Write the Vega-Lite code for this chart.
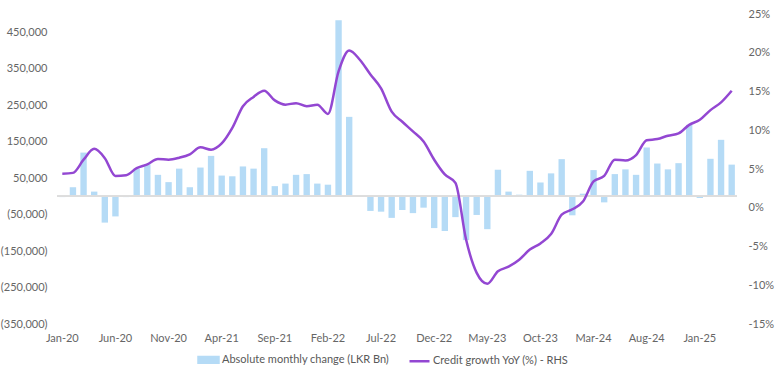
{
  "$schema": "https://vega.github.io/schema/vega-lite/v6.json",
  "width": 680,
  "height": 310,
  "autosize": {"type": "none"},
  "padding": {"left": 57, "top": 14, "right": 43, "bottom": 51},
  "config": {
    "view": {"stroke": null},
    "font": "Lato",
    "axis": {"labelFont": "Lato", "labelFontSize": 11, "labelColor": "#666666", "grid": false, "domain": false, "ticks": false},
    "legend": {"labelFont": "Lato", "labelFontSize": 11, "labelColor": "#595959"}
  },
  "data": {
    "values": [
      {"m": "Jan-20", "chg": -2000, "yoy": 4.4},
      {"m": "Feb-20", "chg": 25000, "yoy": 4.5},
      {"m": "Mar-20", "chg": 120000, "yoy": 6.2},
      {"m": "Apr-20", "chg": 13000, "yoy": 7.6},
      {"m": "May-20", "chg": -72000, "yoy": 6.4},
      {"m": "Jun-20", "chg": -55000, "yoy": 4.1},
      {"m": "Jul-20", "chg": -2000, "yoy": 4.2},
      {"m": "Aug-20", "chg": 76000, "yoy": 5.1},
      {"m": "Sep-20", "chg": 88000, "yoy": 5.6},
      {"m": "Oct-20", "chg": 59000, "yoy": 6.3},
      {"m": "Nov-20", "chg": 39000, "yoy": 6.2},
      {"m": "Dec-20", "chg": 76000, "yoy": 6.45},
      {"m": "Jan-21", "chg": 25000, "yoy": 6.9},
      {"m": "Feb-21", "chg": 79000, "yoy": 7.8},
      {"m": "Mar-21", "chg": 111000, "yoy": 7.5},
      {"m": "Apr-21", "chg": 57000, "yoy": 8.3},
      {"m": "May-21", "chg": 55000, "yoy": 10.3},
      {"m": "Jun-21", "chg": 82000, "yoy": 13.1},
      {"m": "Jul-21", "chg": 76000, "yoy": 14.3},
      {"m": "Aug-21", "chg": 132000, "yoy": 15.1},
      {"m": "Sep-21", "chg": 28000, "yoy": 13.85},
      {"m": "Oct-21", "chg": 35000, "yoy": 13.3},
      {"m": "Nov-21", "chg": 59000, "yoy": 13.5},
      {"m": "Dec-21", "chg": 61000, "yoy": 13.1},
      {"m": "Jan-22", "chg": 35000, "yoy": 13.3},
      {"m": "Feb-22", "chg": 32000, "yoy": 12.1},
      {"m": "Mar-22", "chg": 483000, "yoy": 17.6},
      {"m": "Apr-22", "chg": 218000, "yoy": 20.3},
      {"m": "May-22", "chg": 0, "yoy": 19.1},
      {"m": "Jun-22", "chg": -40000, "yoy": 17.2},
      {"m": "Jul-22", "chg": -42000, "yoy": 15.4},
      {"m": "Aug-22", "chg": -59000, "yoy": 12.4},
      {"m": "Sep-22", "chg": -37500, "yoy": 11.1},
      {"m": "Oct-22", "chg": -46000, "yoy": 9.85},
      {"m": "Nov-22", "chg": -31000, "yoy": 8.55},
      {"m": "Dec-22", "chg": -87000, "yoy": 6.2},
      {"m": "Jan-23", "chg": -95000, "yoy": 4.3},
      {"m": "Feb-23", "chg": -57000, "yoy": 3.2},
      {"m": "Mar-23", "chg": -120000, "yoy": -4.1},
      {"m": "Apr-23", "chg": -51000, "yoy": -8.4},
      {"m": "May-23", "chg": -90000, "yoy": -9.8},
      {"m": "Jun-23", "chg": 73000, "yoy": -8.2},
      {"m": "Jul-23", "chg": 13000, "yoy": -7.6},
      {"m": "Aug-23", "chg": 4600, "yoy": -6.7},
      {"m": "Sep-23", "chg": 70000, "yoy": -5.4},
      {"m": "Oct-23", "chg": 38000, "yoy": -4.6},
      {"m": "Nov-23", "chg": 63000, "yoy": -3.4},
      {"m": "Dec-23", "chg": 102000, "yoy": -0.9},
      {"m": "Jan-24", "chg": -52000, "yoy": -0.2},
      {"m": "Feb-24", "chg": 7300, "yoy": 0.8},
      {"m": "Mar-24", "chg": 72000, "yoy": 3.4},
      {"m": "Apr-24", "chg": -16500, "yoy": 4.1},
      {"m": "May-24", "chg": 61000, "yoy": 6.2},
      {"m": "Jun-24", "chg": 74000, "yoy": 6.1},
      {"m": "Jul-24", "chg": 59000, "yoy": 6.8},
      {"m": "Aug-24", "chg": 134000, "yoy": 8.7},
      {"m": "Sep-24", "chg": 90000, "yoy": 8.86},
      {"m": "Oct-24", "chg": 74000, "yoy": 9.3},
      {"m": "Nov-24", "chg": 91000, "yoy": 9.6},
      {"m": "Dec-24", "chg": 196000, "yoy": 10.7},
      {"m": "Jan-25", "chg": -4600, "yoy": 11.35},
      {"m": "Feb-25", "chg": 103000, "yoy": 12.6},
      {"m": "Mar-25", "chg": 155000, "yoy": 13.6},
      {"m": "Apr-25", "chg": 87000, "yoy": 15.1}
    ]
  },
  "encoding": {
    "x": {
      "field": "m", "type": "ordinal", "sort": null,
      "scale": {"paddingInner": 0.4, "paddingOuter": 0.2},
      "axis": {
        "title": null, "labelAngle": 0, "labelPadding": 8,
        "values": ["Jan-20", "Jun-20", "Nov-20", "Apr-21", "Sep-21", "Feb-22", "Jul-22", "Dec-22", "May-23", "Oct-23", "Mar-24", "Aug-24", "Jan-25"]
      }
    }
  },
  "layer": [
    {
      "mark": {"type": "bar", "color": "#b5dbf6"},
      "encoding": {
        "y": {
          "field": "chg", "type": "quantitative",
          "scale": {"domain": [-350000, 500000], "nice": false, "zero": false},
          "axis": {
            "title": null, "orient": "left", "labelPadding": 10,
            "values": [-350000, -250000, -150000, -50000, 50000, 150000, 250000, 350000, 450000],
            "labelExpr": "datum.value < 0 ? '(' + format(-datum.value, ',') + ')' : format(datum.value, ',') + '\u00a0'"
          }
        },
        "color": {
          "datum": "Absolute monthly change (LKR Bn)",
          "scale": {"domain": ["Absolute monthly change (LKR Bn)", "Credit growth YoY (%) - RHS"], "range": ["#b5dbf6", "#9347d2"]},
          "legend": {
            "title": null, "orient": "none", "direction": "horizontal",
            "legendX": 140, "legendY": 334,
            "symbolSize": 400, "labelOffset": 2, "columnPadding": 14, "labelLimit": 400,
            "encode": {
              "symbols": {
                "update": {
                  "shape": {"signal": "datum.value === 'Absolute monthly change (LKR Bn)' ? 'M-1,-0.28H1V0.28H-1Z' : 'M-1,0H1'"},
                  "fill": {"signal": "datum.value === 'Absolute monthly change (LKR Bn)' ? '#b5dbf6' : 'transparent'"},
                  "stroke": {"signal": "datum.value === 'Absolute monthly change (LKR Bn)' ? 'transparent' : '#9347d2'"},
                  "strokeWidth": {"value": 2.5},
                  "opacity": {"value": 1}
                }
              }
            }
          }
        }
      }
    },
    {
      "mark": {"type": "rule", "color": "#dddddd", "strokeWidth": 1.5},
      "encoding": {
        "x": {"value": 0},
        "x2": {"value": 680},
        "y": {"datum": 0, "type": "quantitative", "scale": {"domain": [-350000, 500000], "nice": false, "zero": false}, "axis": null}
      }
    },
    {
      "mark": {"type": "line", "color": "#9347d2", "strokeWidth": 2.5, "interpolate": "monotone"},
      "encoding": {
        "y": {
          "field": "yoy", "type": "quantitative",
          "scale": {"domain": [-15, 25], "nice": false, "zero": false},
          "axis": {
            "title": null, "orient": "right", "labelPadding": 11, "labelAlign": "left",
            "values": [-15, -10, -5, 0, 5, 10, 15, 20, 25],
            "labelExpr": "datum.value + '%'"
          }
        },
        "color": {"datum": "Credit growth YoY (%) - RHS"}
      }
    }
  ],
  "resolve": {"scale": {"y": "independent"}}
}
